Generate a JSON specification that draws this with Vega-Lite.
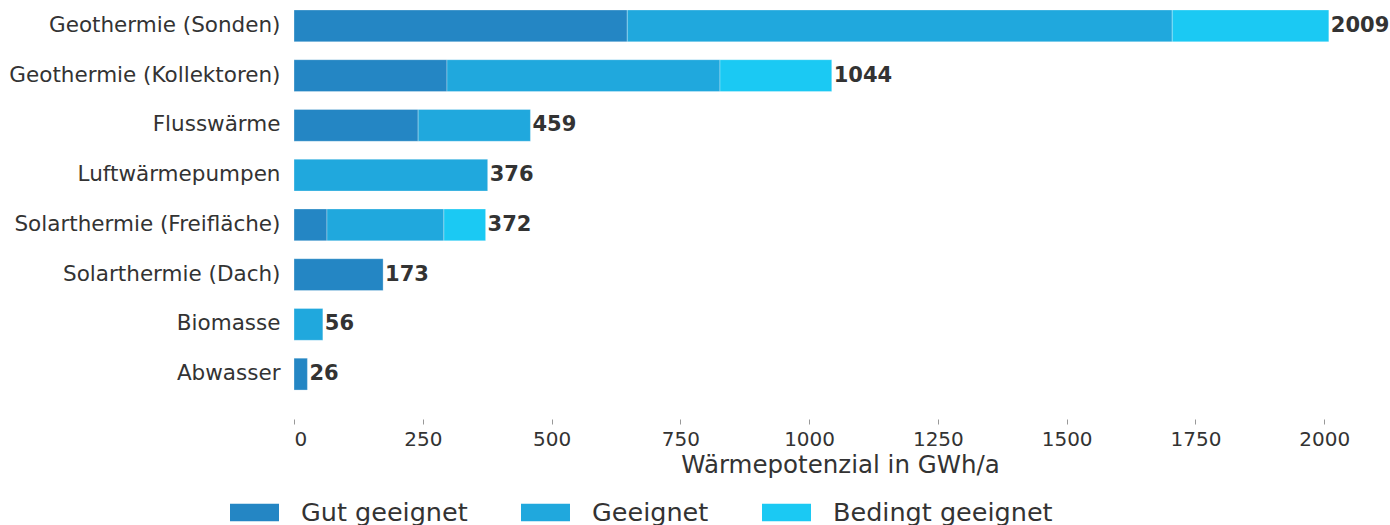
{
  "$schema": "https://vega.github.io/schema/vega-lite/v6.json",
  "width": 1092,
  "height": 398,
  "autosize": {"type": "none"},
  "padding": {"left": 294, "top": 1, "right": 4, "bottom": 126},
  "background": "white",
  "config": {
    "view": {"stroke": null},
    "font": "DejaVu Sans",
    "axis": {"labelFont": "DejaVu Sans", "titleFont": "DejaVu Sans", "labelColor": "#333333", "titleColor": "#333333", "grid": false, "domain": false}
  },
  "data": {
    "values": [
      {"kategorie": "Geothermie (Sonden)", "eignung": "Gut geeignet", "o": 1, "wert": 647},
      {"kategorie": "Geothermie (Sonden)", "eignung": "Geeignet", "o": 2, "wert": 1058},
      {"kategorie": "Geothermie (Sonden)", "eignung": "Bedingt geeignet", "o": 3, "wert": 304},
      {"kategorie": "Geothermie (Kollektoren)", "eignung": "Gut geeignet", "o": 1, "wert": 297},
      {"kategorie": "Geothermie (Kollektoren)", "eignung": "Geeignet", "o": 2, "wert": 530},
      {"kategorie": "Geothermie (Kollektoren)", "eignung": "Bedingt geeignet", "o": 3, "wert": 217},
      {"kategorie": "Flusswärme", "eignung": "Gut geeignet", "o": 1, "wert": 241},
      {"kategorie": "Flusswärme", "eignung": "Geeignet", "o": 2, "wert": 218},
      {"kategorie": "Luftwärmepumpen", "eignung": "Geeignet", "o": 2, "wert": 376},
      {"kategorie": "Solarthermie (Freifläche)", "eignung": "Gut geeignet", "o": 1, "wert": 64},
      {"kategorie": "Solarthermie (Freifläche)", "eignung": "Geeignet", "o": 2, "wert": 227},
      {"kategorie": "Solarthermie (Freifläche)", "eignung": "Bedingt geeignet", "o": 3, "wert": 81},
      {"kategorie": "Solarthermie (Dach)", "eignung": "Gut geeignet", "o": 1, "wert": 173},
      {"kategorie": "Biomasse", "eignung": "Geeignet", "o": 2, "wert": 56},
      {"kategorie": "Abwasser", "eignung": "Gut geeignet", "o": 1, "wert": 26}
    ]
  },
  "encoding": {
    "y": {
      "field": "kategorie", "type": "nominal",
      "sort": ["Geothermie (Sonden)", "Geothermie (Kollektoren)", "Flusswärme", "Luftwärmepumpen", "Solarthermie (Freifläche)", "Solarthermie (Dach)", "Biomasse", "Abwasser"],
      "scale": {"paddingInner": 0.36, "paddingOuter": 0.18},
      "axis": {"title": null, "ticks": false, "labelFontSize": 21.5, "labelPadding": 14, "labelLimit": 0}
    }
  },
  "layer": [
    {
      "mark": {"type": "bar", "stroke": "white", "strokeWidth": 0.6, "strokeOpacity": 0.5},
      "encoding": {
        "x": {
          "field": "wert", "type": "quantitative", "stack": "zero",
          "scale": {"domain": [0, 2120], "nice": false},
          "axis": {"title": "Wärmepotenzial in GWh/a", "format": "d", "values": [0, 250, 500, 750, 1000, 1250, 1500, 1750, 2000], "offset": 20, "tickSize": 5, "tickColor": "#999999", "labelFontSize": 20, "labelPadding": 5, "titleFontSize": 24.5, "titlePadding": 4, "titleFontWeight": "normal"}
        },
        "order": {"field": "o", "type": "quantitative"},
        "color": {
          "field": "eignung", "type": "nominal",
          "scale": {"domain": ["Gut geeignet", "Geeignet", "Bedingt geeignet"], "range": ["#2486C4", "#20A8DD", "#1BC9F3"]},
          "legend": {
            "title": null, "orient": "none", "direction": "horizontal", "legendX": -64, "legendY": 487,
            "symbolType": "M-1,-0.36L1,-0.36L1,0.36L-1,0.36Z", "symbolSize": 2400, "symbolStrokeWidth": 0,
            "labelFontSize": 25.5, "labelColor": "#333333", "labelOffset": 22, "columnPadding": 53, "labelLimit": 0
          }
        }
      }
    },
    {
      "mark": {"type": "text", "align": "left", "dx": 2, "fontWeight": "bold", "fontSize": 21, "color": "#333333"},
      "encoding": {
        "x": {"aggregate": "sum", "field": "wert", "type": "quantitative"},
        "text": {"aggregate": "sum", "field": "wert", "type": "quantitative"}
      }
    }
  ]
}
